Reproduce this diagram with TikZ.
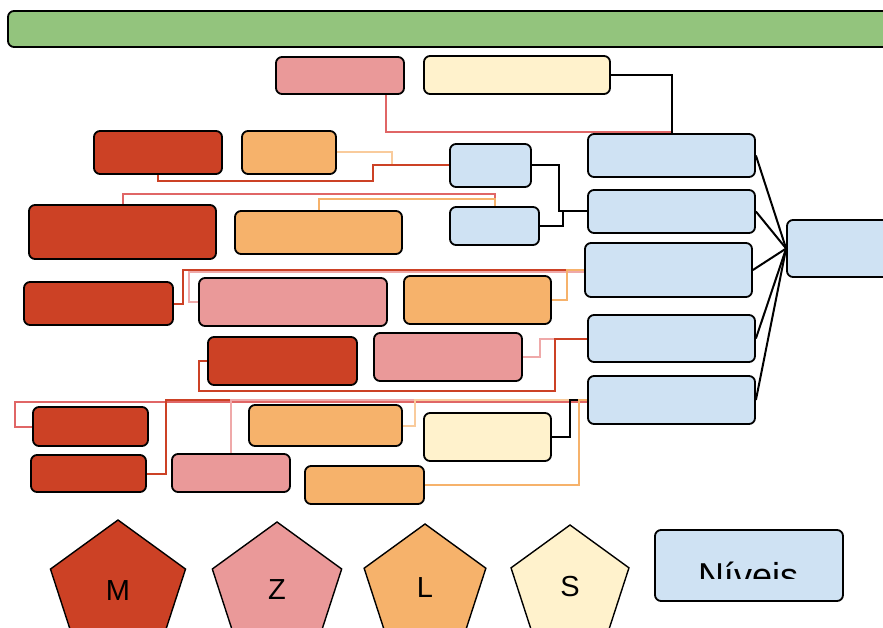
\documentclass[tikz,border=0pt]{standalone}
\usepackage{fontspec}
\setmainfont{Liberation Sans}
\usetikzlibrary{shapes,shapes.geometric,calc}
\definecolor{cM}{HTML}{CC4125}
\definecolor{cZ}{HTML}{EA9999}
\definecolor{cL}{HTML}{F6B26B}
\definecolor{cS}{HTML}{FFF2CC}
\definecolor{cN}{HTML}{CFE2F3}
\definecolor{cT}{HTML}{93C47D}
\definecolor{cR}{HTML}{E06666}
\definecolor{cLL}{HTML}{F9CB9C}
\definecolor{cZZ}{HTML}{EFA9A9}
\begin{document}
\begin{tikzpicture}[x=1pt,y=-1pt]
			\tikzstyle{box}=[rectangle, rounded corners=6pt, draw=black, line width=1.8pt, inner sep=0pt]
			\tikzstyle{mbox}=[box, fill=cM]
			\tikzstyle{zbox}=[box, fill=cZ]
			\tikzstyle{lbox}=[box, fill=cL]
			\tikzstyle{sbox}=[box, fill=cS]
			\tikzstyle{nbox}=[box, fill=cN]
			\tikzstyle{pent}=[regular polygon, regular polygon sides=5, draw=black, line width=1.4pt, inner sep=0pt, font=\fontsize{29}{29}\selectfont]
			\tikzstyle{wire}=[line width=2pt]
			\clip (0,0) rectangle (883,628);
			\node[box, fill=cT, minimum width=932, minimum height=36] (title) at (474,29) {};
			\node[zbox, minimum width=128, minimum height=37] (zA) at (340,75.5) {};
			\node[sbox, minimum width=186, minimum height=38] (sA) at (517,75) {};
			\node[mbox, minimum width=128, minimum height=43] (mA) at (158,152.5) {};
			\node[lbox, minimum width=94, minimum height=43] (lA) at (289,152.5) {};
			\node[nbox, minimum width=81, minimum height=43] (bA) at (490.5,165.5) {};
			\node[nbox, minimum width=89, minimum height=38] (bB) at (494.5,226) {};
			\node[nbox, minimum width=167, minimum height=43] (nA) at (671.5,155.5) {};
			\node[nbox, minimum width=167, minimum height=43] (nB) at (671.5,211.5) {};
			\node[nbox, minimum width=167, minimum height=54] (nC) at (668.5,270) {};
			\node[nbox, minimum width=167, minimum height=47] (nD) at (671.5,338.5) {};
			\node[nbox, minimum width=167, minimum height=48] (nE) at (671.5,400) {};
			\node[nbox, minimum width=143, minimum height=57] (res) at (858.5,248.5) {};
			\node[mbox, minimum width=187, minimum height=54] (mB) at (122.5,232) {};
			\node[lbox, minimum width=167, minimum height=43] (lB) at (318.5,232.5) {};
			\node[mbox, minimum width=149, minimum height=43] (mC) at (98.5,303.5) {};
			\node[zbox, minimum width=188, minimum height=48] (zB) at (293,302) {};
			\node[lbox, minimum width=147, minimum height=48] (lC) at (477.5,300) {};
			\node[mbox, minimum width=149, minimum height=48] (mD) at (282.5,361) {};
			\node[zbox, minimum width=148, minimum height=48] (zC) at (448,357) {};
			\node[mbox, minimum width=115, minimum height=39] (mE) at (90.5,426.5) {};
			\node[lbox, minimum width=153, minimum height=41] (lD) at (325.5,425.5) {};
			\node[sbox, minimum width=127, minimum height=48] (sB) at (487.5,437) {};
			\node[mbox, minimum width=115, minimum height=37] (mF) at (88.5,473.5) {};
			\node[zbox, minimum width=118, minimum height=38] (zD) at (231,473) {};
			\node[lbox, minimum width=119, minimum height=38] (lE) at (364.5,485) {};
			\draw[wire, cR] ($(zA.south)+(46,0)$) |- ($(nA.north)+(0,-1)$);
			\draw[wire, black] (sA.east) -| (nA.north);
			\draw[wire, cLL] (lA.east) -| ($(bA.west)+(-57,0)$) -- (bA.west);
			\draw[wire, cM] (mA.south) -- ++(0,6) -| ($(bA.west)+(-76,0)$) -- (bA.west);
			\draw[wire, cR] (mB.north) |- ($(bB.north)+(0,-12)$) -- (bB.north);
			\draw[wire, cL] (lB.north) |- ($(bB.north)+(0,-7)$) -- (bB.north);
			\draw[wire, black] (bA.east) -| ($(nB.west)+(-28,0)$) -- (nB.west);
			\draw[wire, black] (bB.east) -| ($(nB.west)+(-24,0)$) -- (nB.west);
			\foreach \n in {nA,nB,nC,nD,nE}
				\draw[wire, black] (\n.east) -- (res.west);
			\draw[wire, cM] (mC.east) -| ($(nC.west)+(-401,0)$) -- (nC.west);
			\draw[wire, cZZ] (zB.west) -| ($(nC.west)+(-395,2)$) -- ($(nC.west)+(0,2)$);
			\draw[wire, cL] (lC.east) -| ($(nC.west)+(-17,0)$) -- (nC.west);
			\draw[wire, cZZ] (zC.east) -| ($(nD.west)+(-47,0)$) -- (nD.west);
			\draw[wire, cM] (mD.west) -- ++(-8,0) |- ($(nD.west)+(-32,52)$) -- ++(0,-52) -- (nD.west);
			\draw[wire, cR] (mE.west) -| ($(nE.west)+(-572,2)$) -- ($(nE.west)+(0,2)$);
			\draw[wire, cM] (mF.east) -| ($(nE.west)+(-421,0)$) -- (nE.west);
			\draw[wire, cZZ] (zD.north) |- (nE.west);
			\draw[wire, cLL] (lD.east) -| ($(nE.west)+(-172,0)$) -- (nE.west);
			\draw[wire, black] (sB.east) -| ($(nE.west)+(-17,0)$) -- (nE.west);
			\draw[wire, cL] (lE.east) -| ($(nE.west)+(-8,0)$) -- (nE.west);
			\node[pent, fill=cM, minimum size=142] (legM) at (118,591) {M};
			\node[pent, fill=cZ, minimum size=136] (legZ) at (277,590) {Z};
			\node[pent, fill=cL, minimum size=128] (legL) at (425,588) {L};
			\node[pent, fill=cS, minimum size=124] (legS) at (570,587) {S};
			\node[nbox, minimum width=188, minimum height=71] (legN) at (749,565.5) {};
			\begin{scope}
				\clip (legN.north west) rectangle (843,578);
				\node[anchor=base, inner sep=0pt, font=\fontsize{36}{36}\selectfont] (legT) at (748,588) {Níveis};
			\end{scope}
		\end{tikzpicture}
\end{document}
